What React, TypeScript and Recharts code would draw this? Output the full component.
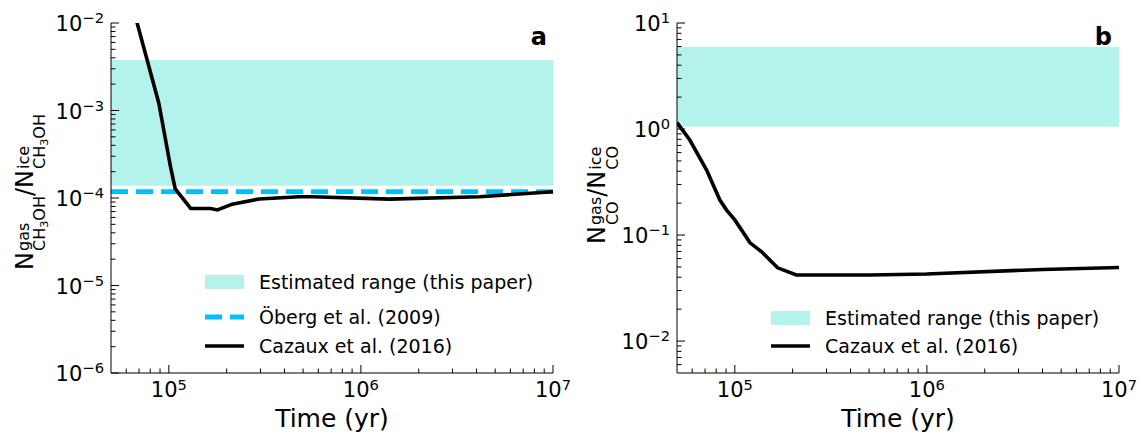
import React from 'react';
import { LineChart, Line, XAxis, YAxis, ReferenceArea, ReferenceLine, Legend } from 'recharts';

const FONT = '"DejaVu Sans", "Liberation Sans", sans-serif';
const BAND_FILL = '#40E0D0';
const OBERG_COLOR = '#00BFFF';

// ---------- Panel a : CH3OH ----------
const TIME_A = [6.3e4, 6.84e4, 7.71e4, 8.87e4, 9.62e4, 1.02e5, 1.08e5, 1.3e5, 1.65e5, 1.79e5, 2.14e5, 2.95e5, 4.78e5, 5.58e5, 1.41e6, 4.16e6, 1e7];
const CAZAUX_A = [1.9e-2, 1.0e-2, 3.78e-3, 1.21e-3, 4.6e-4, 2.28e-4, 1.27e-4, 7.6e-5, 7.6e-5, 7.3e-5, 8.5e-5, 9.75e-5, 1.035e-4, 1.035e-4, 9.7e-5, 1.035e-4, 1.18e-4];
const RANGE_A = [1.38e-4, 3.78e-3];
const OBERG_A = 1.18e-4;

// ---------- Panel b : CO ----------
const TIME_B = [5e4, 5.83e4, 7.13e4, 8.36e4, 9.06e4, 1.0e5, 1.2e5, 1.38e5, 1.67e5, 2.09e5, 5.05e5, 9.95e5, 4.02e6, 1e7];
const CAZAUX_B = [1.15, 0.787, 0.41, 0.214, 0.172, 0.139, 0.0845, 0.0695, 0.0491, 0.042, 0.042, 0.0429, 0.0474, 0.0495];
const RANGE_B = [1.05, 5.94];

// ---------- Axes ----------
const X_DOMAIN = [5e4, 1e7];
const Y_DOMAIN_A = [1e-6, 1e-2];
const Y_DOMAIN_B = [5e-3, 10];
const X_MAJOR = [1e5, 1e6, 1e7];
const Y_MAJOR_A = [1e-6, 1e-5, 1e-4, 1e-3, 1e-2];
const Y_MAJOR_B = [1e-2, 1e-1, 1, 10];
const MINOR_MULT = [2, 3, 4, 5, 6, 7, 8, 9];

const LEGEND_A = [
  { kind: 'patch', label: 'Estimated range (this paper)' },
  { kind: 'dash', label: 'Öberg et al. (2009)' },
  { kind: 'line', label: 'Cazaux et al. (2016)' },
];
const LEGEND_B = [
  { kind: 'patch', label: 'Estimated range (this paper)' },
  { kind: 'line', label: 'Cazaux et al. (2016)' },
];

const minorTicks = (domain: number[]) => {
  const out: number[] = [];
  const d0 = Math.floor(Math.log10(domain[0]));
  const d1 = Math.ceil(Math.log10(domain[1]));
  for (let d = d0; d < d1; d++) {
    for (const m of MINOR_MULT) {
      const v = m * Math.pow(10, d);
      if (v > domain[0] * 1.0001 && v < domain[1] * 0.9999) out.push(v);
    }
  }
  return out;
};

const expText = (v: number) => {
  const e = Math.round(Math.log10(v));
  return e < 0 ? '\u2212' + Math.abs(e) : String(e);
};

const TICK_FONT = 21;
const SUP_FONT = 14.7;

const makeXTick = (majors: number[]) => (props: any) => {
  const { x, y, payload } = props;
  const v = payload.value;
  const major = majors.includes(v);
  return (
    <g>
      <line x1={x} y1={y} x2={x} y2={y - (major ? 8 : 4.5)} stroke="#000" strokeWidth={1} />
      {major && (
        <text x={x} y={y + 24} textAnchor="middle" fontFamily={FONT} fontSize={TICK_FONT} fill="#000">
          <tspan>10</tspan>
          <tspan dy={-7} fontSize={SUP_FONT}>{expText(v)}</tspan>
        </text>
      )}
    </g>
  );
};

const makeYTick = (majors: number[]) => (props: any) => {
  const { x, y, payload } = props;
  const v = payload.value;
  const major = majors.includes(v);
  return (
    <g>
      <line x1={x} y1={y} x2={x + (major ? 8 : 4.5)} y2={y} stroke="#000" strokeWidth={1} />
      {major && (
        <text x={x - 7} y={y + 8} textAnchor="end" fontFamily={FONT} fontSize={TICK_FONT} fill="#000">
          <tspan>10</tspan>
          <tspan dy={-8} fontSize={SUP_FONT}>{expText(v)}</tspan>
        </text>
      )}
    </g>
  );
};

// DejaVu Sans advance widths (em)
const CW: Record<string, number> = { N: 0.748, g: 0.635, a: 0.613, s: 0.521, C: 0.698, H: 0.752, O: 0.787, '3': 0.636, '/': 0.337, i: 0.278, c: 0.55, e: 0.615 };
const tw = (s: string, size: number) => [...s].reduce((w, c) => w + (CW[c] ?? 0.6) * size, 0);

const RatioLabel = ({ bx, cy, species }: { bx: number; cy: number; species: 'CH3OH' | 'CO' }) => {
  const F = 24, S = 16, S2 = 11.2;
  const subW = species === 'CH3OH' ? tw('CH', S) + tw('3', S2) + tw('OH', S) : tw('CO', S);
  const nW = tw('N', F);
  const b1 = Math.max(tw('gas', S), subW);
  const b2 = Math.max(tw('ice', S), subW);
  const slashW = tw('/', F);
  const gap = 1;
  const total = nW + gap + b1 + slashW + nW + gap + b2;
  const x0 = -total / 2;
  const x1 = x0 + nW + gap;
  const x2 = x1 + b1;
  const x3 = x2 + slashW;
  const x4 = x3 + nW + gap;
  const sub = (x: number) =>
    species === 'CH3OH' ? (
      <text x={x} y={12.5} fontSize={S}>
        <tspan>CH</tspan>
        <tspan fontSize={S2} dy={3}>3</tspan>
        <tspan dy={-3}>OH</tspan>
      </text>
    ) : (
      <text x={x} y={12.5} fontSize={S}>CO</text>
    );
  return (
    <g transform={`translate(${bx},${cy}) rotate(-90)`} fontFamily={FONT} fill="#000">
      <text x={x0} y={0} fontSize={F}>N</text>
      <text x={x1} y={-4} fontSize={S}>gas</text>
      {sub(x1)}
      <text x={x2} y={0} fontSize={F}>/</text>
      <text x={x3} y={0} fontSize={F}>N</text>
      <text x={x4} y={-4} fontSize={S}>ice</text>
      {sub(x4)}
    </g>
  );
};

const Marker = ({ kind }: { kind: string }) => (
  <svg width={39} height={16} style={{ display: 'block', marginRight: 15, flex: 'none' }}>
    {kind === 'patch' && <rect x={0} y={1} width={39} height={14} fill={BAND_FILL} fillOpacity={0.4} />}
    {kind === 'dash' && <line x1={0} y1={8} x2={39} y2={8} stroke={OBERG_COLOR} strokeWidth={4.8} strokeDasharray="17 8" />}
    {kind === 'line' && <line x1={0} y1={8} x2={39} y2={8} stroke="#000" strokeWidth={3.6} />}
  </svg>
);

const makeLegend = (items: { kind: string; label: string }[], left: number, centers: number[]) => () => (
  <div style={{ position: 'relative', width: 0, height: 0 }}>
    {items.map((it, i) => (
      <div
        key={i}
        style={{
          position: 'absolute',
          left,
          top: centers[i] - 15,
          height: 30,
          display: 'flex',
          alignItems: 'center',
          whiteSpace: 'nowrap',
          fontFamily: FONT,
          fontSize: 19,
          color: '#000',
        }}
      >
        <Marker kind={it.kind} />
        <span style={{ lineHeight: 1 }}>{it.label}</span>
      </div>
    ))}
  </div>
);

const xLabel = (props: any) => {
  const vb = props.viewBox;
  return (
    <text x={vb.x + vb.width / 2} y={vb.y + 54} textAnchor="middle" fontFamily={FONT} fontSize={25} fill="#000">
      Time (yr)
    </text>
  );
};

const dataA = TIME_A.map((t, i) => ({ t, v: CAZAUX_A[i] }));
const dataB = TIME_B.map((t, i) => ({ t, v: CAZAUX_B[i] }));

const xTicks = [...X_MAJOR, ...minorTicks(X_DOMAIN)].sort((a, b) => a - b);
const yTicksA = [...Y_MAJOR_A, ...minorTicks(Y_DOMAIN_A)].sort((a, b) => a - b);
const yTicksB = [...Y_MAJOR_B, ...minorTicks(Y_DOMAIN_B)].sort((a, b) => a - b);

const XAx = () => null;

export default function App() {
  return (
    <div style={{ position: 'absolute', left: 0, top: 0, width: 1141, height: 432, background: '#fff' }}>
      <div style={{ position: 'absolute', left: 0, top: 0 }}>
        <LineChart width={570} height={432} margin={{ top: 23, right: 17, bottom: 0, left: 0 }}>
          <XAxis
            dataKey="t"
            type="number"
            scale="log"
            domain={X_DOMAIN}
            allowDataOverflow
            ticks={xTicks}
            interval={0}
            tick={makeXTick(X_MAJOR)}
            tickLine={false}
            tickSize={0}
            tickMargin={0}
            axisLine={{ stroke: '#000', strokeWidth: 1 }}
            height={59}
            label={{ content: xLabel }}
          />
          <YAxis
            dataKey="v"
            type="number"
            scale="log"
            domain={Y_DOMAIN_A}
            allowDataOverflow
            ticks={yTicksA}
            interval={0}
            tick={makeYTick(Y_MAJOR_A)}
            tickLine={false}
            tickSize={0}
            tickMargin={0}
            axisLine={{ stroke: '#000', strokeWidth: 1 }}
            width={111}
          />
          <ReferenceArea y1={RANGE_A[0]} y2={RANGE_A[1]} fill={BAND_FILL} fillOpacity={0.4} stroke="none" ifOverflow="hidden" />
          <ReferenceLine y={OBERG_A} stroke={OBERG_COLOR} strokeWidth={4.8} strokeDasharray="17 8" />
          <Line data={dataA} dataKey="v" stroke="#000" strokeWidth={3.6} dot={false} activeDot={false} isAnimationActive={false} type="linear" />
          <ReferenceArea fill="none" stroke="#000" strokeWidth={1} />
          <Legend layout="vertical" align="center" verticalAlign="middle" wrapperStyle={{ left: 0, top: 0, width: 0, height: 0 }} content={makeLegend(LEGEND_A, 205, [282, 317, 346])} />
          <text x={547} y={45} textAnchor="end" fontFamily={FONT} fontWeight="bold" fontSize={24} fill="#000">a</text>
          <RatioLabel bx={32.5} cy={192} species="CH3OH" />
        </LineChart>
      </div>
      <div style={{ position: 'absolute', left: 570, top: 0 }}>
        <LineChart width={571} height={432} margin={{ top: 23, right: 22, bottom: 0, left: 0 }}>
          <XAxis
            dataKey="t"
            type="number"
            scale="log"
            domain={X_DOMAIN}
            allowDataOverflow
            ticks={xTicks}
            interval={0}
            tick={makeXTick(X_MAJOR)}
            tickLine={false}
            tickSize={0}
            tickMargin={0}
            axisLine={{ stroke: '#000', strokeWidth: 1 }}
            height={59}
            label={{ content: xLabel }}
          />
          <YAxis
            dataKey="v"
            type="number"
            scale="log"
            domain={Y_DOMAIN_B}
            allowDataOverflow
            ticks={yTicksB}
            interval={0}
            tick={makeYTick(Y_MAJOR_B)}
            tickLine={false}
            tickSize={0}
            tickMargin={0}
            axisLine={{ stroke: '#000', strokeWidth: 1 }}
            width={107}
          />
          <ReferenceArea y1={RANGE_B[0]} y2={RANGE_B[1]} fill={BAND_FILL} fillOpacity={0.4} stroke="none" ifOverflow="hidden" />
          <Line data={dataB} dataKey="v" stroke="#000" strokeWidth={3.6} dot={false} activeDot={false} isAnimationActive={false} type="linear" />
          <ReferenceArea fill="none" stroke="#000" strokeWidth={1} />
          <Legend layout="vertical" align="center" verticalAlign="middle" wrapperStyle={{ left: 0, top: 0, width: 0, height: 0 }} content={makeLegend(LEGEND_B, 201, [318, 346])} />
          <text x={542} y={45} textAnchor="end" fontFamily={FONT} fontWeight="bold" fontSize={24} fill="#000">b</text>
          <RatioLabel bx={35} cy={195} species="CO" />
        </LineChart>
      </div>
    </div>
  );
}
